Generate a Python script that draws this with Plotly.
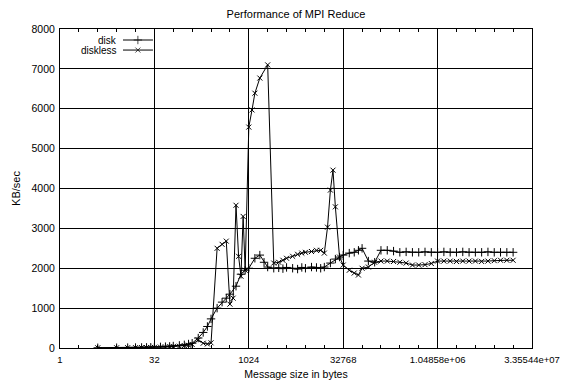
import plotly.graph_objects as go

title_text = "Performance of MPI Reduce"
x_label = "Message size in bytes"
y_label = "KB/sec"

xtick_vals = [1, 32, 1024, 32768, 1048576, 33554432]
xtick_text = ["1", "32", "1024", "32768", "1.04858e+06", "3.35544e+07"]
xminor_vals = [2 ** k for k in range(26)]

tail_sizes = [82570, 104032, 131072, 165140, 208064, 262144, 330281, 416128,
              524288, 660561, 832255, 1048576, 1321123, 1664511, 2097152,
              2642246, 3329021, 4194304, 5284492, 6658043, 8388608, 10568984,
              13316085, 16777216]

disk_sizes = [4, 8, 12, 16, 20, 24, 28, 32, 40, 48, 56, 64, 80, 96, 112, 128,
              160, 192, 224, 256, 320, 384, 448, 512, 640, 768, 896, 1024,
              1280, 1536, 1792, 2048, 2560, 3072, 3584, 4096, 5120, 6144, 7168,
              8192, 10240, 12288, 14336, 16384, 20480, 24576, 28672, 32768,
              40960, 49152, 57344, 65536] + tail_sizes
disk_kbps = [6, 8, 10, 12, 14, 16, 18, 22, 28, 34, 40, 50, 65, 80, 100, 120,
             250, 390, 540, 730, 1000, 1150, 1250, 1350, 1550, 1850, 1950, 2000,
             2250, 2330, 2150, 2030, 2000, 2010, 1990, 2020, 2000, 1980, 2020,
             2000, 2030, 2020, 2000, 2030, 2130, 2230, 2280, 2330,
             2380, 2400, 2450, 2500,
             2180, 2150, 2450, 2450, 2430, 2400, 2410, 2400, 2400, 2410, 2400,
             2400, 2410, 2400, 2400, 2410, 2400, 2400, 2400, 2410, 2400, 2400,
             2400, 2400]

diskless_sizes = [4, 8, 12, 16, 20, 24, 28, 32, 40, 48, 56, 64, 80, 96, 112,
                  128, 160, 192, 224, 256, 320, 384, 448, 512, 576, 640, 704,
                  768, 832, 896, 1024, 1152, 1280, 1536, 2048, 2560, 3072, 3584,
                  4096, 5120, 6144, 7168, 8192, 10240, 12288, 14336, 16384,
                  18432, 20480, 22528, 24576, 28672, 32768, 40960, 49152, 57344,
                  65536] + tail_sizes
diskless_kbps = [5, 6, 8, 9, 10, 12, 14, 16, 20, 25, 30, 36, 45, 60, 70, 90,
                 200, 120, 100, 130, 2500, 2600, 2680, 1100, 1250, 3580, 2300,
                 1800, 3300, 1950, 5540, 5970, 6390, 6770, 7100, 2130, 2150,
                 2200, 2250, 2300, 2350, 2380, 2400, 2420, 2450, 2450, 2380,
                 3030, 3960, 4460, 3540, 2280, 2080, 1950, 1880, 1830, 2000,
                 2030, 2150, 2180, 2180, 2170, 2150, 2130, 2080, 2080, 2090,
                 2120, 2180, 2180, 2180, 2170, 2180, 2180, 2180, 2170, 2180,
                 2190, 2200, 2200, 2200]

assert len(disk_sizes) == len(disk_kbps)
assert len(diskless_sizes) == len(diskless_kbps)

FONT = "Liberation Sans, Arial, sans-serif"

fig = go.Figure()
fig.add_trace(go.Scatter(
    x=disk_sizes, y=disk_kbps, mode="lines+markers", name="disk",
    line=dict(color="black", width=1),
    marker=dict(symbol="cross-thin", size=6, line=dict(color="black", width=1)),
    showlegend=False))
fig.add_trace(go.Scatter(
    x=diskless_sizes, y=diskless_kbps, mode="lines+markers", name="diskless",
    line=dict(color="black", width=1),
    marker=dict(symbol="x-thin", size=5, line=dict(color="black", width=1)),
    showlegend=False))

# legend key drawn gnuplot-style (label left, sample right) on an overlay axis
key_x0, key_x1, key_xm = 0.1335, 0.197, 0.165
key_rows = [("disk", 0.9655, "cross-thin", 6),
            ("diskless", 0.934, "x-thin", 5)]
for label, ky, sym, sz in key_rows:
    fig.add_trace(go.Scatter(
        x=[key_x0, key_xm, key_x1], y=[ky, ky, ky], mode="lines+markers",
        xaxis="x2", yaxis="y2", showlegend=False, hoverinfo="skip",
        line=dict(color="black", width=1),
        marker=dict(symbol=sym, size=[0, sz, 0], line=dict(color="black", width=1))))
    fig.add_annotation(x=0.125, y=ky, xref="paper", yref="paper", text=label,
                       showarrow=False, xanchor="right", yanchor="middle",
                       font=dict(family=FONT, size=10, color="black"))

fig.add_shape(type="rect", xref="paper", yref="paper", x0=0.002, x1=0.21,
              y0=0.918, y1=0.998, fillcolor="white", line=dict(width=0),
              layer="between")

fig.update_layout(
    width=574, height=383,
    margin=dict(l=60, r=42, t=29, b=35, autoexpand=False),
    paper_bgcolor="white", plot_bgcolor="white",
    font=dict(family=FONT, size=10, color="black"),
    title=dict(text=title_text, x=0.5157, xanchor="center", y=0.963,
               yanchor="middle", font=dict(family=FONT, size=11)),
    xaxis=dict(type="log", range=[0, 7.52575], tickvals=xtick_vals,
               ticktext=xtick_text, ticks="inside", ticklen=6,
               tickcolor="black", showline=True, linecolor="black",
               linewidth=1, mirror="ticks", showgrid=True, gridcolor="black",
               gridwidth=1, zeroline=False, ticklabelstandoff=3,
               automargin=False,
               minor=dict(tickvals=xminor_vals, ticks="inside", ticklen=3,
                          tickcolor="black", showgrid=False),
               title=dict(text=x_label, standoff=6,
                          font=dict(family=FONT, size=10.5)),
               tickfont=dict(size=9.5)),
    yaxis=dict(range=[0, 8000], dtick=1000, ticks="inside", ticklen=6,
               tickcolor="black", showline=True, linecolor="black",
               linewidth=1, mirror="ticks", showgrid=True, gridcolor="black",
               gridwidth=1, zeroline=False, ticklabelstandoff=2,
               automargin=False,
               title=dict(text=y_label, standoff=8,
                          font=dict(family=FONT, size=11)),
               tickfont=dict(size=10.5)),
    xaxis2=dict(overlaying="x", range=[0, 1], visible=False),
    yaxis2=dict(overlaying="y", range=[0, 1], visible=False),
)

fig.write_html("out.html")
